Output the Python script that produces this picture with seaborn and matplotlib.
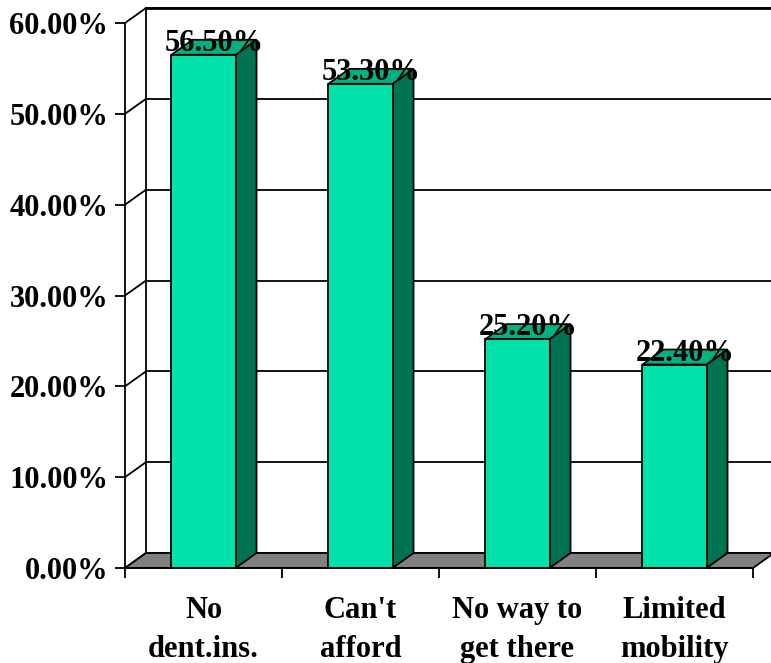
import matplotlib
matplotlib.use("Agg")
import matplotlib.pyplot as plt
from matplotlib.patches import Polygon
import seaborn as sns
import pandas as pd

categories = ["No\ndent.ins.", "Can't\nafford", "No way to\nget there", "Limited\nmobility"]
values = [56.5, 53.3, 25.2, 22.4]
y_ticks = [0, 10, 20, 30, 40, 50, 60]

FRONT = "#00E2AA"
SIDE = "#007352"
TOP = "#00B282"
FLOOR = "#808080"

sns.set_theme(style="white")
plt.rcParams["font.family"] = ["Liberation Serif", "DejaVu Serif"]
plt.rcParams["font.weight"] = "bold"
plt.rcParams["text.color"] = "black"

df = pd.DataFrame({"reason": categories, "pct": values})

fig = plt.figure(figsize=(7.71, 6.63), dpi=100)
ax = fig.add_axes([125 / 771, 95 / 663, 628 / 771, 545 / 663])

# depth of the pseudo-3D box, in data units
DX = 21 / 157
DY = 15 / (545 / 60)

sns.barplot(data=df, x="reason", y="pct", color=FRONT, saturation=1,
            width=0.408, edgecolor="black", linewidth=1.3, ax=ax, zorder=5)

ax.set_xlim(-0.5, 3.5)
ax.set_ylim(0, 60)
ax.set_xlabel("")
ax.set_ylabel("")

# back wall: gridlines, top edge, left edge
x_back0, x_back1 = -0.5 + DX, 3.5 + DX + 0.5
for v in y_ticks:
    ax.plot([x_back0, x_back1], [v + DY, v + DY], color="black", lw=1.3,
            clip_on=False, zorder=1)
    ax.plot([-0.5, x_back0], [v, v + DY], color="black", lw=1.3,
            clip_on=False, zorder=1)
ax.plot([x_back0, x_back1], [60 + DY, 60 + DY], color="black", lw=2,
        clip_on=False, zorder=1)
ax.plot([x_back0, x_back0], [DY, 60 + DY], color="black", lw=1.3,
        clip_on=False, zorder=1)

# floor
floor = Polygon([(-0.5, 0), (3.5, 0), (3.5 + DX, DY), (-0.5 + DX, DY)],
                closed=True, facecolor=FLOOR, edgecolor="black", lw=1.3,
                clip_on=False, zorder=2)
ax.add_patch(floor)

# side and top faces of each bar, plus value labels
for p, v in zip(ax.patches[:len(values)], values):
    x0 = p.get_x()
    x1 = x0 + p.get_width()
    h = p.get_height()
    side = Polygon([(x1, 0), (x1 + DX, DY), (x1 + DX, h + DY), (x1, h)],
                   closed=True, facecolor=SIDE, edgecolor="black", lw=1.3,
                   clip_on=False, zorder=4)
    top = Polygon([(x0, h), (x1, h), (x1 + DX, h + DY), (x0 + DX, h + DY)],
                  closed=True, facecolor=TOP, edgecolor="black", lw=1.3,
                  clip_on=False, zorder=4)
    ax.add_patch(side)
    ax.add_patch(top)
    ax.text((x0 + x1) / 2 + DX / 2, h + DY, f"{v:.2f}%", ha="center",
            va="center_baseline", fontsize=22, fontweight="bold",
            color="black", zorder=7, clip_on=False)

for s in ["top", "right"]:
    ax.spines[s].set_visible(False)
for s in ["left", "bottom"]:
    ax.spines[s].set_color("black")
    ax.spines[s].set_linewidth(1.3)
    ax.spines[s].set_zorder(6)

ax.set_yticks(y_ticks)
ax.set_yticklabels([f"{t:.2f}%" for t in y_ticks], fontsize=22,
                   fontweight="bold")
ax.tick_params(axis="y", direction="out", length=7, width=1.3, pad=5,
               colors="black", labelcolor="black", left=True)

ax.set_xticks(range(len(categories)))
ax.set_xticklabels(categories, fontsize=22, fontweight="bold",
                   linespacing=1.45)
ax.set_xticks([-0.5, 0.5, 1.5, 2.5, 3.5], minor=True)
ax.tick_params(axis="x", which="major", length=0, pad=20,
               labelcolor="black")
ax.tick_params(axis="x", which="minor", direction="out", length=7,
               width=1.3, bottom=True, colors="black")

fig.savefig("out.png", dpi=100)
